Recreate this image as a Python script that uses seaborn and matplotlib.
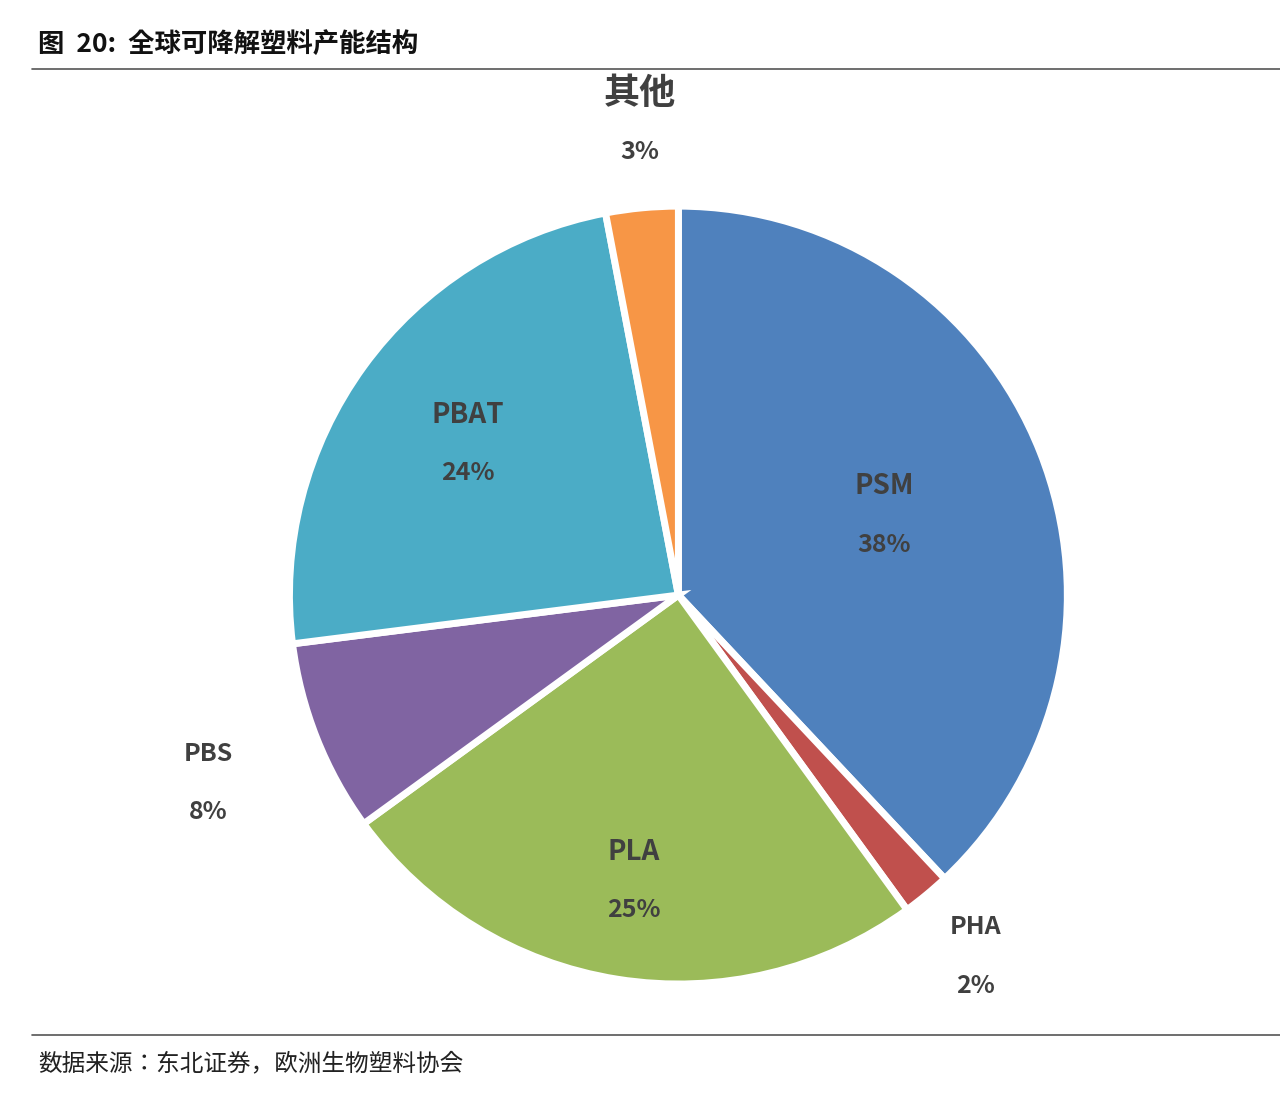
import numpy as np
import matplotlib
matplotlib.use("Agg")
import matplotlib.pyplot as plt
from matplotlib import font_manager as fm
import seaborn as sns

categories = ["PSM", "PHA", "PLA", "PBS", "PBAT", "其他"]
values = [38, 2, 25, 8, 24, 3]
colors = ["#4F81BD", "#C0504D", "#9BBB59", "#8064A2", "#4BACC6", "#F79646"]
label_radius = [0.57, 1.2, 0.74, 1.3, 0.67, 1.2]
label_size = [20, 18, 20, 18, 20, 26]

sns.set_style("white")
cjk_path = None
for f in fm.fontManager.ttflist:
    if f.name in ("Noto Sans CJK SC", "Noto Sans CJK JP", "Noto Sans CJK TC", "Noto Sans CJK KR"):
        cjk_path = f.fname
        if f.name == "Noto Sans CJK SC" and f.weight in (700, "bold"):
            break
fam = fm.FontProperties(fname=cjk_path).get_name() if cjk_path else "DejaVu Sans"
plt.rcParams["font.family"] = [fam, "DejaVu Sans"]
palette = sns.color_palette(colors)

fig = plt.figure(figsize=(12.8, 11.02), dpi=100)
ax = fig.add_axes([0.53 - 0.31, 0.46 - 0.36, 0.62, 0.72])
wedges, _ = ax.pie(values, colors=palette, startangle=90, counterclock=False,
                   wedgeprops=dict(edgecolor="white", linewidth=5))
ax.set_aspect("equal")
ax.set_xlim(-1.02, 1.02); ax.set_ylim(-1.02, 1.02)
for w, c, v, r, s in zip(wedges, categories, values, label_radius, label_size):
    ang = np.deg2rad((w.theta1 + w.theta2) / 2)
    x, y = r * np.cos(ang), r * np.sin(ang)
    if c == "其他":
        x, y = -0.1, 1.22
    ax.text(x, y + 0.07, c, ha="center", va="center", fontsize=s, fontweight="bold", color="#404040")
    ax.text(x, y - 0.08, f"{v}%", ha="center", va="center", fontsize=18, fontweight="bold", color="#404040")

fig.text(0.03, 0.96, "图  20:  全球可降解塑料产能结构", fontsize=19, fontweight="bold", ha="left", va="center", color="#111111")
fig.add_artist(plt.Line2D([0.025, 1.0], [0.937, 0.937], color="#555555", lw=1.2))
fig.add_artist(plt.Line2D([0.025, 1.0], [0.061, 0.061], color="#555555", lw=1.2))
fig.text(0.03, 0.035, "数据来源：东北证券，欧洲生物塑料协会", fontsize=17, ha="left", va="center", color="#222222")
fig.savefig("out.png", dpi=100)
